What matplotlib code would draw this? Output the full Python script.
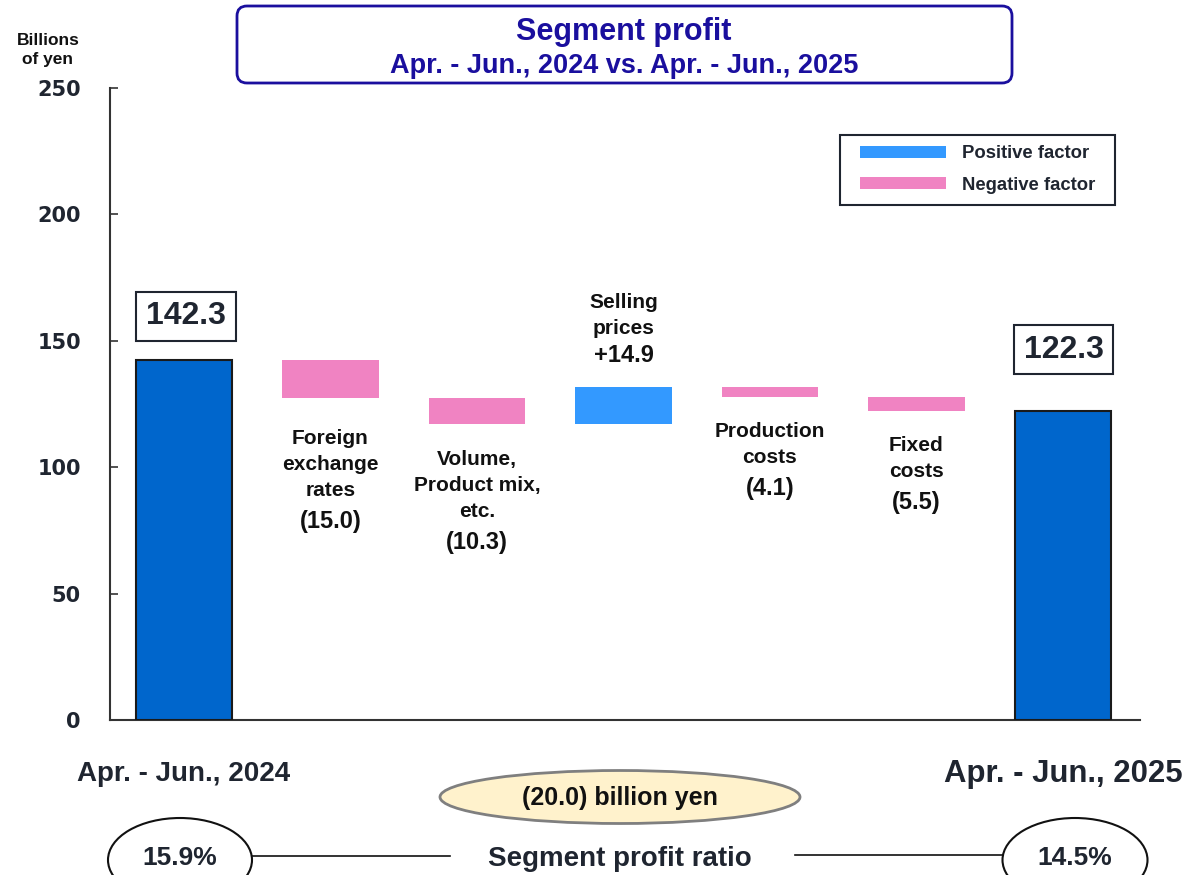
import numpy as np
import matplotlib
matplotlib.use("Agg")
import matplotlib.pyplot as plt
from matplotlib.patches import Rectangle, Ellipse, FancyBboxPatch

plt.rcParams['font.family'] = ['Liberation Sans', 'DejaVu Sans']
plt.rcParams['font.weight'] = 'bold'

# data
start_label = "Apr. - Jun., 2024"
end_label = "Apr. - Jun., 2025"
start_value = 142.3
end_value = 122.3
factor_names = [["Foreign", "exchange", "rates"],
                ["Volume,", "Product mix,", "etc."],
                ["Selling", "prices"],
                ["Production", "costs"],
                ["Fixed", "costs"]]
factor_deltas = [-15.0, -10.3, 14.9, -4.1, -5.5]
legend_labels = ["Positive factor", "Negative factor"]
total_change = "(20.0) billion yen"
ratio_start = "15.9%"
ratio_end = "14.5%"
yticks = [0, 50, 100, 150, 200, 250]

pos_color = '#3399FF'
neg_color = '#F083C2'
total_color = '#0066CC'
txt_dark = '#1F2530'
navy = '#1A0F9E'

fig = plt.figure(figsize=(11.91, 8.75), dpi=100)
ax = fig.add_axes([110/1191, 1-720/875, 1030/1191, 632/875])

bw = 0.66
ax.bar(0, start_value, width=bw, color=total_color, edgecolor='#1a1a1a', lw=1.5, zorder=3)
ax.bar(6, end_value, width=bw, color=total_color, edgecolor='#1a1a1a', lw=1.5, zorder=3)

level = start_value
tops, bottoms = [], []
for i, d in enumerate(factor_deltas):
    lo, hi = min(level, level + d), max(level, level + d)
    ax.bar(i + 1, hi - lo, bottom=lo, width=bw, color=pos_color if d > 0 else neg_color,
           zorder=3)
    tops.append(hi)
    bottoms.append(lo)
    level += d

# factor labels (pixel offsets from bar edge to first line centre)
first_gap = [40, 35, -31, 35, 35]
for i, d in enumerate(factor_deltas):
    val = ("+%.1f" % d) if d > 0 else ("(%.1f)" % -d)
    names = factor_names[i]
    if d > 0:
        y0 = tops[i]
        vy = -first_gap[i]
        ax.annotate(val, (i + 1, y0), xytext=(0, vy), textcoords='offset pixels',
                    ha='center', va='center', fontsize=17, color='#111111')
        for k, nm in enumerate(reversed(names)):
            ax.annotate(nm, (i + 1, y0), xytext=(0, vy + 27 + 26 * k),
                        textcoords='offset pixels', ha='center', va='center',
                        fontsize=15, color='#111111')
    else:
        y0 = bottoms[i]
        for k, nm in enumerate(names):
            ax.annotate(nm, (i + 1, y0), xytext=(0, -first_gap[i] - 26 * k),
                        textcoords='offset pixels', ha='center', va='center',
                        fontsize=15, color='#111111')
        vy = -first_gap[i] - 26 * (len(names) - 1) - 31
        ax.annotate(val, (i + 1, y0), xytext=(0, vy), textcoords='offset pixels',
                    ha='center', va='center', fontsize=17, color='#111111')

# boxed totals
box = dict(boxstyle='square,pad=0.3', fc='white', ec='#1F2530', lw=1.5)
ax.annotate("%.1f" % start_value, (0, start_value), xytext=(2, 44),
            textcoords='offset pixels', ha='center', va='center', fontsize=23,
            color=txt_dark, bbox=box)
ax.annotate("%.1f" % end_value, (6, end_value), xytext=(1, 61),
            textcoords='offset pixels', ha='center', va='center', fontsize=23,
            color=txt_dark, bbox=box)

ax.set_xlim(-0.505, 6.526)
ax.set_ylim(0, 250)
ax.set_yticks(yticks)
ax.set_yticklabels([str(t) for t in yticks], fontsize=15, family='DejaVu Sans',
                   color=txt_dark)
ax.tick_params(axis='y', direction='in', length=6, width=1.2, pad=21, colors='#333333',
               labelcolor=txt_dark)
ax.set_xticks([0, 6])
ax.set_xticklabels([start_label, end_label], color=txt_dark, va='center')
ax.get_xticklabels()[0].set_fontsize(20)
ax.get_xticklabels()[1].set_fontsize(22.4)
ax.tick_params(axis='x', length=0, pad=39)
for s in ['top', 'right']:
    ax.spines[s].set_visible(False)
for s in ['left', 'bottom']:
    ax.spines[s].set_color('#333333')
    ax.spines[s].set_linewidth(1.5)

# overlay in pixel coordinates for header / legend / footer decorations
ov = fig.add_axes([0, 0, 1, 1])
ov.set_xlim(0, 1191)
ov.set_ylim(875, 0)
ov.axis('off')

ov.add_patch(FancyBboxPatch((237, 6), 775, 77, boxstyle='round,pad=0,rounding_size=10',
                            fc='white', ec=navy, lw=2))
ov.text(624, 32, "Segment profit", ha='center', va='center', fontsize=22, color=navy)
ov.text(624, 66, start_label + " vs. " + end_label, ha='center', va='center',
        fontsize=19.5, color=navy)
ov.text(48, 50, "Billions\nof yen", ha='center', va='center', fontsize=12.5,
        color='#111111', linespacing=1.4)

# legend
ov.add_patch(Rectangle((840, 135), 275, 70, fc='white', ec=txt_dark, lw=1.5))
for k, (lab, col) in enumerate(zip(legend_labels, [pos_color, neg_color])):
    ov.add_patch(Rectangle((860, 146 + 31 * k), 86, 12, fc=col, ec='none'))
    ov.text(962, 154 + 31 * k, lab, ha='left', va='center', fontsize=13.3, color=txt_dark)

ov.add_patch(Ellipse((620, 797), 360, 53, fc='#FFF2CC', ec='#7F7F7F', lw=2))
ov.text(620, 798, total_change, ha='center', va='center', fontsize=18, color='#111111')

ov.add_patch(Ellipse((180, 860), 144, 84, fc='white', ec='#111111', lw=1.5, clip_on=False))
ov.add_patch(Ellipse((1075, 860), 145, 84, fc='white', ec='#111111', lw=1.5, clip_on=False))
ov.text(180, 858, ratio_start, ha='center', va='center', fontsize=19, color=txt_dark)
ov.text(1075, 858, ratio_end, ha='center', va='center', fontsize=19, color=txt_dark)
ov.plot([252, 450], [856, 856], color='#111111', lw=1.2)
ov.plot([795, 1003], [855, 855], color='#111111', lw=1.2)
ov.text(620, 859, "Segment profit ratio", ha='center', va='center', fontsize=20,
        color=txt_dark)

fig.savefig("out.png", dpi=100)
